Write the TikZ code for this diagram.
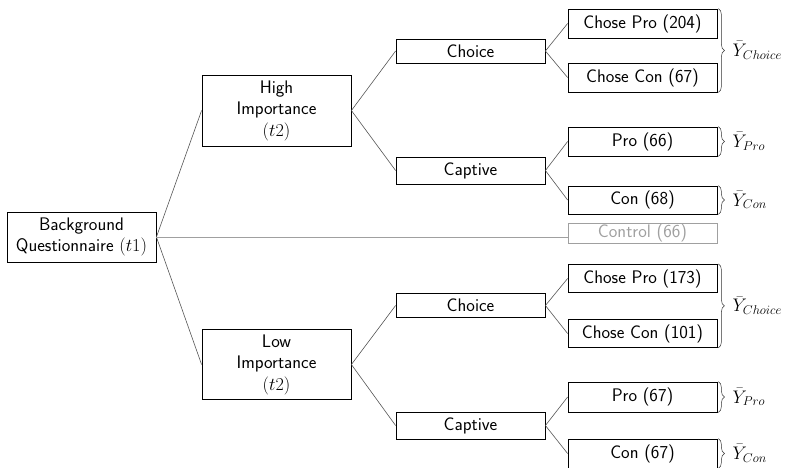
\RequirePackage{fix-cm}
\documentclass[tikz,border=0pt]{standalone}
\usepackage{fontspec}
\usetikzlibrary{decorations.pathreplacing}
\definecolor{linegray}{RGB}{85,85,85}
\definecolor{ctrlgray}{RGB}{160,160,160}
\tikzset{
  box/.style={draw=black, line width=0.8pt, minimum width=149pt, inner sep=0pt, align=center, font=\fontsize{18.2}{21.5}\selectfont\sffamily},
  conn/.style={draw=linegray, line width=0.6pt},
  ybrace/.style={draw=black!80, line width=0.5pt, decorate, decoration={brace, amplitude=6pt}},
  ylab/.style={anchor=west, inner sep=0pt, font=\fontsize{18.2}{21}\selectfont}
}
\begin{document}
\begin{tikzpicture}[x=1pt,y=-1pt]
\useasboundingbox (0,0) rectangle (786,467);
% nodes
\node[box, minimum height=50pt] (bg) at (81.5,237) {Background\\Questionnaire $(t1)$};
\node[box, minimum height=71pt] (hi) at (276.5,110.5) {High\\Importance\\$(t2)$};
\node[box, minimum height=70pt] (lo) at (276.5,364.5) {Low\\Importance\\$(t2)$};
\node[box, minimum height=24pt] (c1) at (470.5,51) {Choice};
\node[box, minimum height=27pt] (k1) at (470.5,170.5) {Captive};
\node[box, minimum height=24pt] (c2) at (470.5,305.5) {Choice};
\node[box, minimum height=27pt] (k2) at (470.5,425.5) {Captive};
\node[box, minimum height=29pt] (cp1) at (642.5,23.5) {Chose Pro (204)};
\node[box, minimum height=29pt] (cc1) at (642.5,77.5) {Chose Con (67)};
\node[box, minimum height=29pt] (p1) at (642.5,141.5) {Pro (66)};
\node[box, minimum height=28pt] (n1) at (642.5,200) {Con (68)};
\node[box, draw=ctrlgray, text=ctrlgray, minimum height=20pt] (ctrl) at (642.5,233) {Control (66)};
\node[box, minimum height=28.5pt] (cp2) at (642.5,278.5) {Chose Pro (173)};
\node[box, minimum height=28pt] (cc2) at (642.5,333.5) {Chose Con (101)};
\node[box, minimum height=30pt] (p2) at (642.5,397) {Pro (67)};
\node[box, minimum height=29pt] (n2) at (642.5,453.5) {Con (67)};
% connectors
\draw[conn] (bg.east) -- (hi.west);
\draw[conn] (bg.east) -- (lo.west);
\draw[conn, draw=ctrlgray] (bg.east) -- (bg.east -| ctrl.west);
\draw[conn] (hi.east) -- (c1.west);
\draw[conn] (hi.east) -- (k1.west);
\draw[conn] (lo.east) -- (c2.west);
\draw[conn] (lo.east) -- (k2.west);
\draw[conn] (c1.east) -- (cp1.west);
\draw[conn] (c1.east) -- (cc1.west);
\draw[conn] (k1.east) -- (p1.west);
\draw[conn] (k1.east) -- (n1.west);
\draw[conn] (c2.east) -- (cp2.west);
\draw[conn] (c2.east) -- (cc2.west);
\draw[conn] (k2.east) -- (p2.west);
\draw[conn] (k2.east) -- (n2.west);
% braces
\draw[ybrace] ([xshift=1pt]cp1.north east) -- ([xshift=1pt]cc1.south east) coordinate[midway] (b1);
\node[ylab] (y1) at ([xshift=14pt]b1) {$\bar{Y}_{Choice}$};
\draw[ybrace] ([xshift=1pt]p1.north east) -- ([xshift=1pt]p1.south east) coordinate[midway] (b2);
\node[ylab] (y2) at ([xshift=14pt]b2) {$\bar{Y}_{Pro}$};
\draw[ybrace] ([xshift=1pt]n1.north east) -- ([xshift=1pt]n1.south east) coordinate[midway] (b3);
\node[ylab] (y3) at ([xshift=14pt]b3) {$\bar{Y}_{Con}$};
\draw[ybrace] ([xshift=1pt]cp2.north east) -- ([xshift=1pt]cc2.south east) coordinate[midway] (b4);
\node[ylab] (y4) at ([xshift=14pt]b4) {$\bar{Y}_{Choice}$};
\draw[ybrace] ([xshift=1pt]p2.north east) -- ([xshift=1pt]p2.south east) coordinate[midway] (b5);
\node[ylab] (y5) at ([xshift=14pt]b5) {$\bar{Y}_{Pro}$};
\draw[ybrace] ([xshift=1pt]n2.north east) -- ([xshift=1pt]n2.south east) coordinate[midway] (b6);
\node[ylab] (y6) at ([xshift=14pt]b6) {$\bar{Y}_{Con}$};
\end{tikzpicture}
\end{document}
